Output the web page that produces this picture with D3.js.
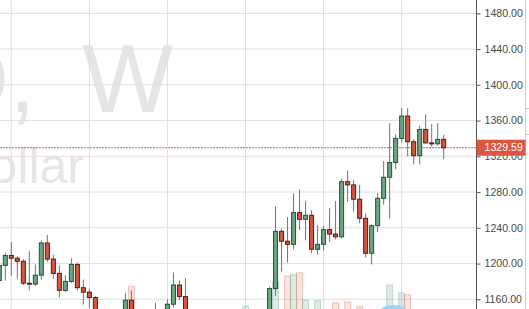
<!DOCTYPE html>
<html>
<head>
<meta charset="utf-8">
<script src="https://cdn.jsdelivr.net/npm/d3@7"></script>
<style>
  html, body { margin: 0; padding: 0; background: #fff; overflow: hidden; }
  svg { display: block; font-family: "Liberation Sans", Arial, sans-serif; }
</style>
</head>
<body>
<div id="chart"></div>
<script>
// Weekly gold candles (XAUUSD, W), oldest first
const opens = [1181, 1198, 1209, 1206, 1202.5, 1178, 1177, 1187, 1223, 1205,
  1189, 1170, 1180, 1199, 1173, 1168, 1162, 1132, 1098, 1095,
  1094, 1114, 1159, 1134, 1121, 1103, 1138, 1146, 1137, 1154.5,
  1176, 1163, 1142, 1088, 1080, 1076, 1056, 1085, 1075, 1065,
  1076, 1061, 1104, 1089, 1097, 1118, 1172, 1236, 1225, 1221.5,
  1257, 1249.5, 1254, 1216, 1221.5, 1238, 1233, 1230, 1291.6, 1288,
  1272, 1250.6, 1211.5, 1242.4, 1273, 1296.5, 1313, 1340, 1365, 1336.3,
  1320.7, 1350, 1335, 1334, 1339];
const highs = [1202, 1212, 1224, 1208, 1205, 1214, 1199, 1226, 1232, 1210,
  1198, 1187, 1206, 1201, 1182, 1172, 1163.5, 1135, 1104, 1102,
  1126, 1167, 1170, 1138, 1128, 1142, 1156, 1147, 1160, 1190,
  1181, 1183.5, 1145, 1096, 1091, 1080, 1088, 1086, 1080, 1084,
  1078, 1112, 1112, 1112, 1126, 1174, 1264, 1239, 1252, 1278.6,
  1283, 1270, 1260, 1243, 1242, 1262, 1270, 1295, 1304, 1293.5,
  1288, 1256, 1244, 1278.6, 1314.7, 1357, 1344.6, 1374, 1374, 1339,
  1354, 1367, 1356, 1357, 1344];
const lows = [1176, 1181, 1186, 1183, 1176, 1170, 1175, 1182, 1202, 1183,
  1162, 1168, 1178, 1170, 1154, 1150, 1128, 1077, 1079, 1084,
  1092, 1112, 1120, 1117, 1098, 1099, 1124, 1126, 1134, 1151,
  1159, 1140, 1085, 1076, 1070, 1053, 1046, 1061, 1049, 1062,
  1058, 1060, 1083, 1080, 1094, 1107, 1164, 1191, 1201, 1216,
  1237.5, 1226, 1211.5, 1210, 1215, 1224, 1227, 1228, 1269, 1258,
  1245, 1207, 1199, 1235, 1266, 1250.6, 1305.5, 1335, 1320, 1311,
  1311, 1334, 1330.7, 1332, 1317];
const closes = [1198, 1209, 1206, 1202.5, 1178, 1177, 1187, 1223, 1205, 1189,
  1170, 1180, 1199, 1173, 1168, 1162, 1132, 1098, 1095, 1094,
  1114, 1159, 1134, 1121, 1103, 1138, 1146, 1137, 1154.5, 1176,
  1163, 1142, 1088, 1080, 1076, 1056, 1085, 1075, 1065, 1076,
  1061, 1104, 1089, 1097, 1118, 1172, 1236, 1225, 1221.5, 1257,
  1249.5, 1254, 1216, 1221.5, 1238, 1233, 1230, 1291.6, 1288, 1272,
  1250.6, 1211.5, 1242.4, 1273, 1296.5, 1313, 1340, 1365, 1336.3, 1320.7,
  1350, 1335, 1334, 1339, 1329.59];
// volume, arbitrary units (most bars sit below the visible edge)
const volumes = [8, 9, 10, 9, 11, 10, 9, 12, 11, 10,
  12, 9, 10, 11, 12, 12, 13, 14, 12, 11,
  12, 14, 53, 12, 13, 12, 11, 10, 12, 14,
  13, 12, 14, 11, 10, 12, 13, 11, 10, 9,
  11, 20, 13, 12, 13, 12, 60, 12, 70, 73,
  75.5, 30, 13, 29, 10, 12, 25.5, 14, 26.7, 13,
  18.8, 14, 14, 12, 14, 55, 14, 42, 39, 12,
  11, 13, 10, 12, 11];
const priceTicks = [1160, 1200, 1240, 1280, 1320, 1360, 1400, 1440, 1480];
const quarterStarts = [2, 15, 28, 41, 54, 67];
const eventMarks = [65.6];
const watermarkTitle = "XAUUSD, W";
const watermarkSub = "Gold / U.S. Dollar";
const lastPrice = closes[closes.length - 1];

const width = 529, height = 309;
const axisX = 476.5;

const candles = opens.map((o, i) => ({
  i: i, open: o, high: highs[i], low: lows[i], close: closes[i], volume: volumes[i]
}));

const xScale = d3.scaleLinear().domain([0, candles.length - 1]).range([-0.7, 443.7]);
const yScale = d3.scaleLinear().domain([1160, 1480]).range([299.3, 13.3]);
const vScale = d3.scaleLinear().domain([0, 100]).range([318, 258]);

const upFill = "#6ba583", upBorder = "#225437";
const downFill = "#d75442", downBorder = "#5b1a13";

const svg = d3.select("#chart").append("svg")
  .attr("width", width)
  .attr("height", height);

// watermark
svg.append("text")
  .attr("x", 173)
  .attr("y", 112)
  .attr("text-anchor", "end")
  .attr("font-size", 96)
  .attr("word-spacing", 20)
  .attr("fill", "#e5e5e5")
  .text(watermarkTitle);

svg.append("text")
  .attr("x", 84)
  .attr("y", 183)
  .attr("text-anchor", "end")
  .attr("font-size", 50)
  .attr("fill", "#e5e5e5")
  .text(watermarkSub);

// grid
svg.append("g")
  .selectAll("line")
  .data(priceTicks)
  .join("line")
  .attr("x1", 0)
  .attr("x2", axisX)
  .attr("y1", d => yScale(d))
  .attr("y2", d => yScale(d))
  .attr("stroke", "#e0e0e0");

svg.append("g")
  .selectAll("line")
  .data(quarterStarts)
  .join("line")
  .attr("x1", d => xScale(d))
  .attr("x2", d => xScale(d))
  .attr("y1", 0)
  .attr("y2", height)
  .attr("stroke", "#e0e0e0");

// volume
svg.append("g")
  .selectAll("rect")
  .data(candles)
  .join("rect")
  .attr("x", d => xScale(d.i) - 3)
  .attr("y", d => vScale(d.volume))
  .attr("width", 6)
  .attr("height", d => vScale(0) - vScale(d.volume))
  .attr("fill", d => d.close >= d.open ? "rgba(107,165,131,0.22)" : "rgba(215,84,66,0.16)")
  .attr("stroke", d => d.close >= d.open ? "rgba(107,165,131,0.35)" : "rgba(215,84,66,0.3)")
  .attr("stroke-width", 1);

// event marker at the bottom
svg.append("g")
  .selectAll("ellipse")
  .data(eventMarks)
  .join("ellipse")
  .attr("cx", d => xScale(d))
  .attr("cy", 316)
  .attr("rx", 16)
  .attr("ry", 11)
  .attr("fill", "#9bd3f5");

// last price line
svg.append("line")
  .attr("x1", 0)
  .attr("x2", axisX)
  .attr("y1", yScale(lastPrice))
  .attr("y2", yScale(lastPrice))
  .attr("stroke", "#e0533f")
  .attr("stroke-dasharray", "2,1");

// candles
const cg = svg.append("g");
cg.selectAll("line")
  .data(candles)
  .join("line")
  .attr("x1", d => xScale(d.i))
  .attr("x2", d => xScale(d.i))
  .attr("y1", d => yScale(d.high))
  .attr("y2", d => yScale(d.low))
  .attr("stroke", "#737375");

cg.selectAll("rect")
  .data(candles)
  .join("rect")
  .attr("x", d => xScale(d.i) - 2)
  .attr("y", d => yScale(Math.max(d.open, d.close)))
  .attr("width", 4)
  .attr("height", d => Math.max(1, Math.abs(yScale(d.open) - yScale(d.close))))
  .attr("fill", d => d.close >= d.open ? upFill : downFill)
  .attr("stroke", d => d.close >= d.open ? upBorder : downBorder)
  .attr("stroke-width", 1);

// price axis
svg.append("rect")
  .attr("x", axisX)
  .attr("y", 0)
  .attr("width", width - axisX)
  .attr("height", height)
  .attr("fill", "#fff");

const axis = svg.append("g")
  .attr("transform", `translate(${axisX},0)`)
  .call(d3.axisRight(yScale)
    .tickValues(priceTicks)
    .tickFormat(d3.format(".2f"))
    .tickSize(4)
    .tickSizeOuter(0)
    .tickPadding(4));
axis.select(".domain").remove();
axis.selectAll(".tick line").attr("stroke", "#555");
axis.selectAll(".tick text")
  .attr("fill", "#4a4a4a")
  .attr("font-size", 10.6)
  .attr("font-family", "Liberation Sans, Arial, sans-serif");

svg.append("line")
  .attr("x1", axisX)
  .attr("x2", axisX)
  .attr("y1", 0)
  .attr("y2", height)
  .attr("stroke", "#555");

// right edge of the panel
svg.append("line")
  .attr("x1", 525.5)
  .attr("x2", 525.5)
  .attr("y1", 0)
  .attr("y2", height)
  .attr("stroke", "#cfcfcf");
svg.append("rect")
  .attr("x", 525.5)
  .attr("y", 108.5)
  .attr("width", 5)
  .attr("height", 26)
  .attr("fill", "#fff")
  .attr("stroke", "#cfcfcf");

// last price label
svg.append("rect")
  .attr("x", axisX)
  .attr("y", yScale(lastPrice) - 8)
  .attr("width", 49)
  .attr("height", 16)
  .attr("fill", "#dd5640");

svg.append("text")
  .attr("x", axisX + 8)
  .attr("y", yScale(lastPrice))
  .attr("dy", "0.35em")
  .attr("fill", "#fff")
  .attr("font-size", 10.6)
  .text(d3.format(".2f")(lastPrice));
</script>
</body>
</html>
